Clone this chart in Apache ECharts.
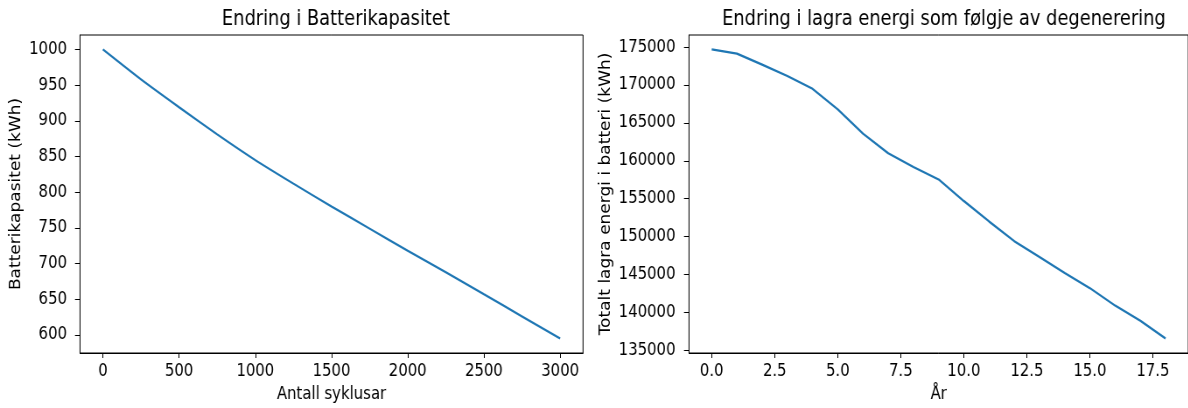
<!DOCTYPE html>
<html>
<head>
<meta charset="utf-8">
<script src="https://cdn.jsdelivr.net/npm/echarts@6/dist/echarts.min.js"></script>
<style>
  html, body { margin: 0; padding: 0; background: #fff; overflow: hidden; width: 1188px; height: 408px; }
  /* the figure is laid out wider and squeezed horizontally, giving the narrow lettering */
  #chart { height: 408px; transform-origin: 0 0; }
</style>
</head>
<body>
<div id="chart"></div>
<script>
// Battery capacity against number of cycles
const cycles = [0, 250, 500, 750, 1000, 1250, 1500, 1750, 2000, 2250, 2500, 2750, 3000];
const capacity = [1000, 958, 919, 881, 845, 812, 780, 749, 718, 688, 657, 626, 595];

// Total stored energy per year
const years = [0, 1, 2, 3, 4, 5, 6, 7, 8, 9, 10, 11, 12, 13, 14, 15, 16, 17, 18];
const storedEnergy = [174700, 174150, 172700, 171200, 169500, 166800, 163600, 161000, 159200,
  157550, 154700, 152000, 149400, 147300, 145200, 143200, 140900, 138900, 136550];

// Tick values
const cycleTicks = [0, 500, 1000, 1500, 2000, 2500, 3000];
const capacityTicks = [600, 650, 700, 750, 800, 850, 900, 950, 1000];
const yearTicks = [0, 2.5, 5, 7.5, 10, 12.5, 15, 17.5];
const energyTicks = [135000, 140000, 145000, 150000, 155000, 160000, 165000, 170000, 175000];

const SX = 0.875;              // horizontal squeeze of the whole figure
const W = Math.ceil(1188 / SX);
const X = px => px / SX;       // screen x -> layout x

const FONT = 'DejaVu Sans';
const TICK_SIZE = 17;
const TITLE_SIZE = 20.4;
const BLUE = '#1f77b4';

const el = document.getElementById('chart');
el.style.width = W + 'px';
el.style.transform = 'scaleX(' + SX + ')';

// 5% padding on each side of the data range
function padded(values) {
  const lo = Math.min(...values), hi = Math.max(...values);
  const m = (hi - lo) * 0.05;
  return [lo - m, hi + m];
}

function valueAxis(gridIndex, range, ticks, fmt, name, nameGap, tickLen, labelMargin) {
  return {
    type: 'value',
    gridIndex: gridIndex,
    min: range[0],
    max: range[1],
    name: name,
    nameLocation: 'middle',
    nameGap: nameGap,
    nameTextStyle: { fontFamily: FONT, fontSize: TICK_SIZE, color: '#000' },
    axisLine: { show: true, onZero: false, lineStyle: { color: '#000', width: 1 } },
    axisTick: { show: true, length: tickLen, customValues: ticks, lineStyle: { color: '#000', width: 1 } },
    axisLabel: {
      show: true, customValues: ticks, formatter: fmt, margin: labelMargin,
      fontFamily: FONT, fontSize: TICK_SIZE, color: '#000'
    },
    splitLine: { show: false }
  };
}

const chart = echarts.init(el, null, { renderer: 'canvas', width: W, height: 408 });

chart.setOption({
  backgroundColor: '#fff',
  animation: false,
  title: [
    {
      text: 'Endring i Batterikapasitet',
      left: X(331.5), top: 5, textAlign: 'center',
      textStyle: { fontFamily: FONT, fontSize: TITLE_SIZE, fontWeight: 'normal', color: '#000' }
    },
    {
      text: 'Endring i lagra energi som følgje av degenerering',
      left: X(939.5), top: 5, textAlign: 'center',
      textStyle: { fontFamily: FONT, fontSize: TITLE_SIZE, fontWeight: 'normal', color: '#000' }
    }
  ],
  grid: [
    { left: X(80), top: 35, width: X(503), height: 327, show: true, borderColor: '#000', borderWidth: 1 },
    { left: X(689), top: 35, width: X(501), height: 327, show: true, borderColor: '#000', borderWidth: 1 }
  ],
  xAxis: [
    valueAxis(0, padded(cycles), cycleTicks, v => String(v), 'Antall syklusar', 33, 5, 10),
    valueAxis(1, padded(years), yearTicks, v => v.toFixed(1), 'År', 33, 5, 10)
  ],
  yAxis: [
    valueAxis(0, padded(capacity), capacityTicks, v => String(v), 'Batterikapasitet (kWh)', 64, X(5), X(13)),
    valueAxis(1, padded(storedEnergy), energyTicks, v => String(v), 'Totalt lagra energi i batteri (kWh)', 86, X(5), X(13.5))
  ],
  series: [
    {
      type: 'line', xAxisIndex: 0, yAxisIndex: 0,
      data: cycles.map((c, i) => [c, capacity[i]]),
      showSymbol: false, smooth: 0.2,
      lineStyle: { color: BLUE, width: 2.2 }
    },
    {
      type: 'line', xAxisIndex: 1, yAxisIndex: 1,
      data: years.map((y, i) => [y, storedEnergy[i]]),
      showSymbol: false,
      lineStyle: { color: BLUE, width: 2.2 }
    }
  ]
});
</script>
</body>
</html>
